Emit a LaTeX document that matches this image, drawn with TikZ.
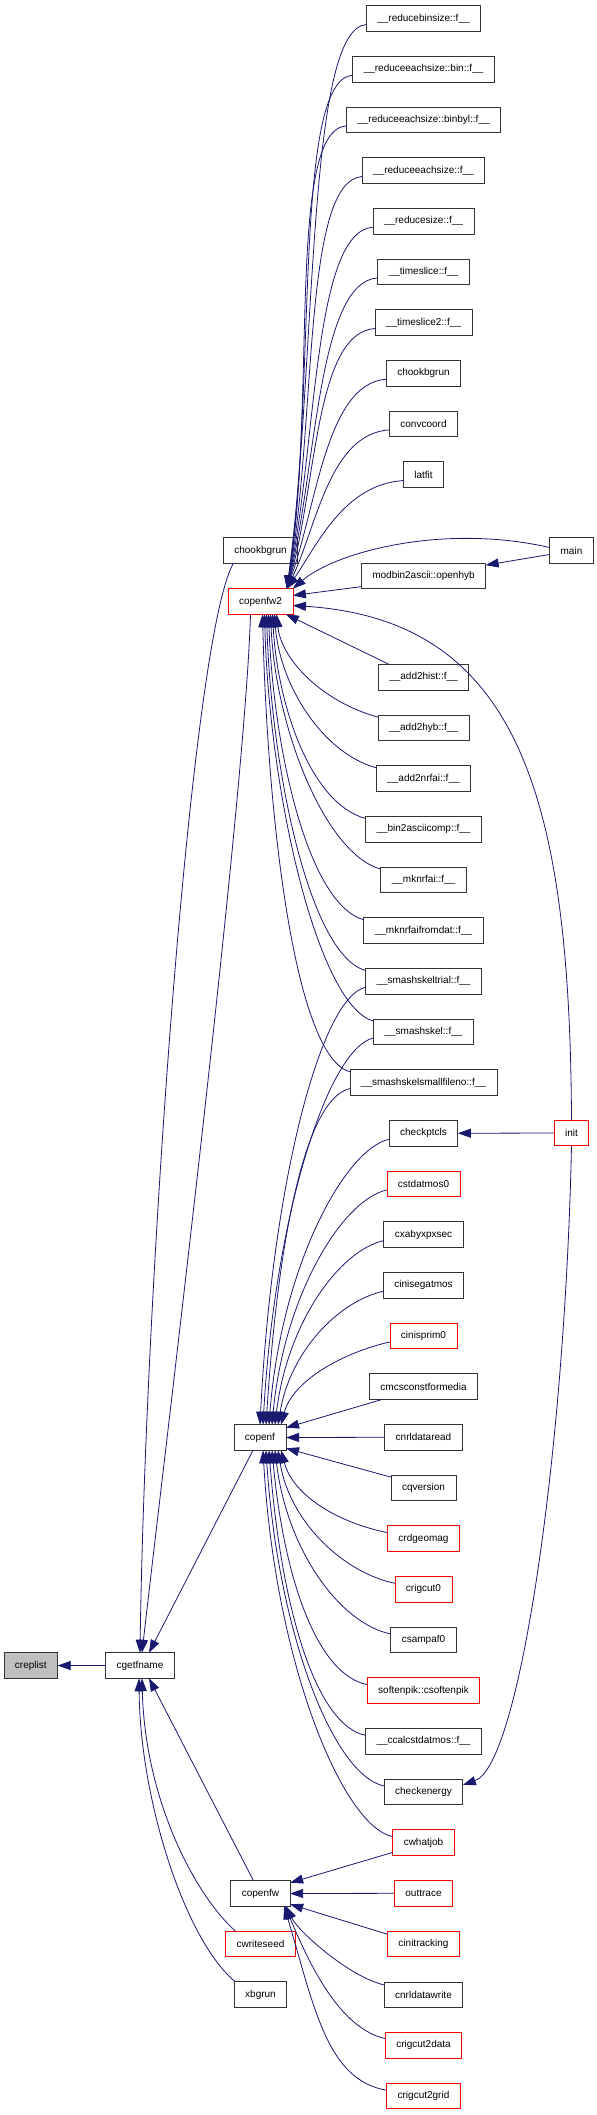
\documentclass[tikz,border=0pt]{standalone}
\usepackage{fontspec}
\setmainfont{Liberation Sans}
\usetikzlibrary{arrows.meta,positioning}
\definecolor{callink}{HTML}{191970}
\definecolor{rootfill}{HTML}{BFBFBF}
\tikzset{fn/.style={draw=black!80,line width=0.8pt,fill=white,font=\fontsize{10}{12}\selectfont,minimum height=25.5pt,inner xsep=11pt,inner ysep=1pt,outer sep=0pt}, more/.style={fn,draw=red}, root/.style={fn,fill=rootfill}, arr/.style={-{Triangle[length=13pt,width=9pt]},line width=0.8pt,draw=callink}}
\begin{document}
\begin{tikzpicture}[x=1pt,y=-1pt,node distance=25.17pt]
\useasboundingbox (0,0) rectangle (597,2115);
% callers, one row each
\node[fn] at (423.5,18.5) (rbinsize){\_\_reducebinsize::f\_\_};\node[fn,below=of rbinsize](rbin){\_\_reduceeachsize::bin::f\_\_};\node[fn,below=of rbin](rbinbyl){\_\_reduceeachsize::binbyl::f\_\_};
\node[fn,below=of rbinbyl](reach){\_\_reduceeachsize::f\_\_};\node[fn,below=of reach](rsize){\_\_reducesize::f\_\_};\node[fn,below=of rsize](tslice){\_\_timeslice::f\_\_};
\node[fn,below=of tslice](tslice2){\_\_timeslice2::f\_\_};\node[fn,below=of tslice2](chookR){chookbgrun};\node[fn,below=of chookR](convcoord){convcoord};\node[fn,below=of convcoord](latfit){latfit};
\node[fn,below=75.84pt of latfit](modbin){modbin2ascii::openhyb};\node[fn,below=75.84pt of modbin](add2hist){\_\_add2hist::f\_\_};
\node[fn,below=of add2hist](add2hyb){\_\_add2hyb::f\_\_};\node[fn,below=of add2hyb](add2nrfai){\_\_add2nrfai::f\_\_};\node[fn,below=of add2nrfai](bin2ascii){\_\_bin2asciicomp::f\_\_};
\node[fn,below=of bin2ascii](mknrfai){\_\_mknrfai::f\_\_};\node[fn,below=of mknrfai](mknrfaidat){\_\_mknrfaifromdat::f\_\_};\node[fn,below=of mknrfaidat](smtrial){\_\_smashskeltrial::f\_\_};
\node[fn,below=of smtrial](smskel){\_\_smashskel::f\_\_};\node[fn,below=of smskel](smsmall){\_\_smashskelsmallfileno::f\_\_};\node[fn,below=of smsmall](checkptcls){checkptcls};
\node[more,below=of checkptcls](cstdatmos){cstdatmos0};\node[fn,below=of cstdatmos](cxaby){cxabyxpxsec};\node[fn,below=of cxaby](cinisegatmos){cinisegatmos};\node[more,below=of cinisegatmos](cinisprim){cinisprim0};
\node[fn,below=of cinisprim](cmcsconst){cmcsconstformedia};\node[fn,below=of cmcsconst](cnrldataread){cnrldataread};\node[fn,below=of cnrldataread](cqversion){cqversion};
\node[more,below=of cqversion](crdgeomag){crdgeomag};\node[more,below=of crdgeomag](crigcut0){crigcut0};\node[fn,below=of crigcut0](csampaf0){csampaf0};\node[more,below=of csampaf0](softenpik){softenpik::csoftenpik};
\node[fn,below=of softenpik](ccalc){\_\_ccalcstdatmos::f\_\_};\node[fn,below=of ccalc](checkenergy){checkenergy};\node[more,below=of checkenergy](cwhatjob){cwhatjob};\node[more,below=of cwhatjob](outtrace){outtrace};
\node[more,below=of outtrace](cinitracking){cinitracking};\node[fn,below=of cinitracking](cnrldatawrite){cnrldatawrite};\node[more,below=of cnrldatawrite](crigcut2data){crigcut2data};\node[more,below=of crigcut2data](crigcut2grid){crigcut2grid};
% far right
\node[fn] at (571.5,550.5) (main){main};\node[more] at (571.5,1133) (init){init};
% middle column and root
\node[fn] at (260.5,550.5) (chookL){chookbgrun};\node[more] at (260.5,601.5) (copenfw2){copenfw2};\node[fn] at (260,1437.5) (copenf){copenf};
\node[fn] at (260.5,1893.5) (copenfw){copenfw};\node[more] at (260.5,1944) (cwriteseed){cwriteseed};\node[fn] at (260.5,1994.5) (xbgrun){xbgrun};
\node[fn] at (140,1665.5) (cgetfname){cgetfname};\node[root,left=48pt of cgetfname](creplist){creplist};
% edges into copenfw2
\foreach \n/\h in {rbinsize/225,rbin/205,rbinbyl/185,reach/165,rsize/144,tslice/124,tslice2/104,chookR/84,convcoord/63,latfit/43}{\draw[arr]([yshift=-6pt]\n.west) .. controls +(-60,4) and +(30,-\h) .. ([xshift=-6pt]copenfw2.north east);}
\foreach \n/\h/\e in {add2hyb/46/16pt,add2nrfai/69/14pt,bin2ascii/91/12pt,mknrfai/115/10pt,mknrfaidat/138/8pt,smtrial/160/6pt,smskel/183/4pt,smsmall/206/2pt}{\draw[arr]([yshift=-2pt]\n.north west) .. controls +(-55,-15) and +(5,\h) .. ([xshift=\e]copenfw2.south);}
\draw[arr]([xshift=11pt]add2hist.north west)--([xshift=-7pt]copenfw2.south east);
\draw[arr]([yshift=3pt]main.west) .. controls +(-110,-25) and +(40,-35) .. (copenfw2.north east);
\draw[arr]([yshift=-4pt]main.west)--([yshift=-2pt]modbin.north east);\draw[arr]([yshift=2pt]modbin.south west)--([yshift=6pt]copenfw2.east);
\draw[arr](init.north) .. controls (570,800) and (520,620) .. ([yshift=-4pt]copenfw2.east);
\draw[arr](init.west)--(checkptcls.east);\draw[arr](init.south) .. controls (565,1450) and (520,1765) .. ([yshift=7pt]checkenergy.east);
% edges into copenf
\foreach \n/\h/\e in {smtrial/240/0pt,smskel/212/3pt,smsmall/185/6pt,checkptcls/157/9pt,cstdatmos/129/12pt,cxaby/101/15pt,cinisegatmos/73/18pt,cinisprim/45/21pt}{\draw[arr]([yshift=-6pt]\n.west) .. controls +(-45,10) and +(12,-\h) .. ([xshift=\e]copenf.north);}
\foreach \n/\h/\e in {crdgeomag/45/21pt,crigcut0/73/18pt,csampaf0/101/15pt,softenpik/129/12pt,ccalc/157/9pt,checkenergy/185/6pt,cwhatjob/213/3pt}{\draw[arr]([yshift=6pt]\n.west) .. controls +(-50,-10) and +(12,\h) .. ([xshift=\e]copenf.south);}
\draw[arr]([xshift=13pt]cmcsconst.south west)--([yshift=-3pt]copenf.north east);\draw[arr](cnrldataread.west)--(copenf.east);\draw[arr]([yshift=-2pt]cqversion.north west)--([yshift=2pt]copenf.south east);
% edges into copenfw
\draw[arr]([yshift=3pt]cwhatjob.south west)--([yshift=-2pt]copenfw.north east);\draw[arr](outtrace.west)--(copenfw.east);\draw[arr]([yshift=-3pt]cinitracking.north west)--([yshift=2pt]copenfw.south east);
\draw[arr]([yshift=-3pt]cnrldatawrite.north west) .. controls +(-35,-8) and +(12,25) .. ([xshift=-4pt]copenfw.south east);
\draw[arr]([yshift=-6pt]crigcut2data.north west) .. controls +(-45,-10) and +(25,60) .. ([xshift=-5pt]copenfw.south east);
\draw[arr]([yshift=-7pt]crigcut2grid.north west) .. controls +(-60,-10) and +(30,100) .. ([xshift=-6pt]copenfw.south east);
% edges into cgetfname
\draw[arr]([xshift=10pt]chookL.south west) .. controls (190,640) and (145,1300) .. (cgetfname.north);
\draw[arr]([xshift=-10pt]copenfw2.south) .. controls (245,800) and (165,1450) .. ([xshift=2pt]cgetfname.north);
\draw[arr]([xshift=-7pt]copenf.south)--([xshift=9pt]cgetfname.north);\draw[arr]([xshift=-7pt]copenfw.north)--([xshift=9pt]cgetfname.south);
\draw[arr]([xshift=10pt]cwriteseed.north west) .. controls (195,1895) and (145,1800) .. ([xshift=2pt]cgetfname.south);
\draw[arr]([xshift=1pt]xbgrun.north west) .. controls (185,1940) and (140,1800) .. ([xshift=-1pt]cgetfname.south);
\draw[arr](cgetfname.west)--(creplist.east);
\end{tikzpicture}
\end{document}
